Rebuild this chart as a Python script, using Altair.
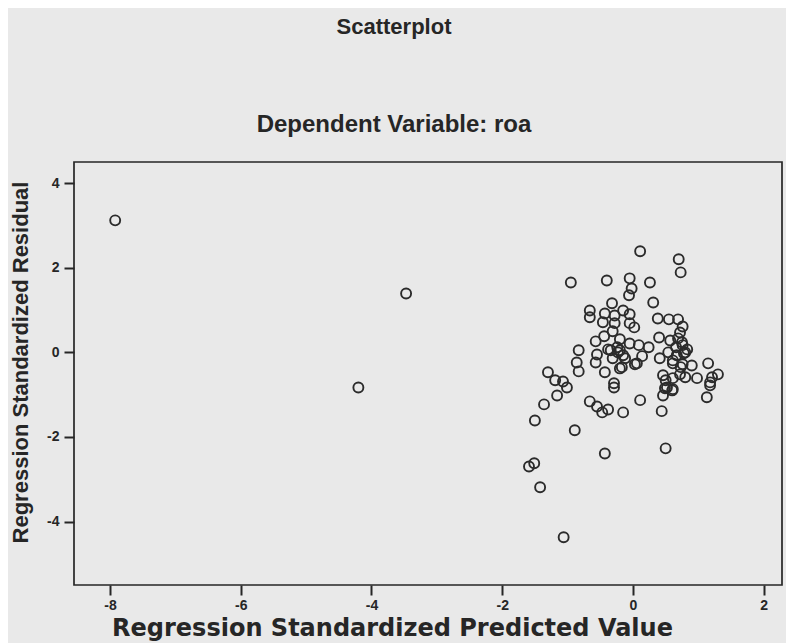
import altair as alt
import pandas as pd

# Regression standardized predicted value (x) and standardized residual (y)
pred = [
    -7.92, -4.20, -3.47,
    0.11, 0.70, 0.73, -0.95, -0.40, -0.05, -0.02, -0.06, 0.26, 0.31, -0.32,
    -0.66, -0.66, -0.43, -0.28, -0.15, -0.05, -0.46, -0.28, -0.05, 0.02,
    0.38, 0.55, 0.69, 0.76, 0.72, 0.69, 0.40, 0.57, 0.76, 0.83,
    -0.31, -0.44, -0.57, -0.20, -0.05, 0.09, 0.24, -0.24, -0.38, -0.55,
    -0.57, -0.83, -0.86, -0.83, -0.31, -0.15, -0.17, 0.03, 0.14, 0.41,
    0.54, 0.67, 0.78, 0.61, 0.76, 0.90, 0.46, 0.72, 0.80, 0.98,
    1.15, 1.21, 1.18, 1.30, 1.13, 0.52, 0.46, 0.60, -0.43, -0.29,
    -0.29, 0.11, -1.30, -1.19, -1.07, -1.01, -1.16, -1.36, -0.66, -0.55,
    -0.38, -0.15, 0.44, -1.50, -0.89, -0.47, 0.50, -0.43, -1.59, -1.51,
    -1.42, -1.06, -0.20, -0.34, -0.12, 0.06, -0.20, 0.66, 0.50, 0.61,
    0.73, 0.49, 0.61, 0.80, 0.61, -0.23, 1.18, 0.75,
]
resid = [
    3.12, -0.83, 1.39,
    2.39, 2.20, 1.89, 1.65, 1.70, 1.75, 1.51, 1.35, 1.65, 1.18, 1.16,
    0.99, 0.83, 0.92, 0.87, 0.99, 0.90, 0.71, 0.69, 0.69, 0.59,
    0.80, 0.78, 0.78, 0.61, 0.47, 0.33, 0.35, 0.28, 0.17, 0.07,
    0.50, 0.38, 0.26, 0.31, 0.21, 0.17, 0.12, 0.12, 0.07, -0.05,
    -0.24, 0.05, -0.24, -0.45, -0.14, -0.07, -0.35, -0.28, -0.09, -0.14,
    0.00, -0.07, -0.02, -0.26, -0.28, -0.31, -0.54, -0.52, -0.59, -0.61,
    -0.26, -0.59, -0.71, -0.52, -1.06, -0.83, -1.02, -0.90, -0.47, -0.73,
    -0.83, -1.13, -0.47, -0.66, -0.69, -0.83, -1.02, -1.23, -1.16, -1.28,
    -1.35, -1.42, -1.39, -1.61, -1.84, -1.42, -2.27, -2.39, -2.70, -2.62,
    -3.19, -4.37, 0.05, 0.05, -0.14, -0.26, -0.38, 0.12, -0.66, -0.61,
    -0.35, -0.85, -0.87, 0.00, -0.19, 0.00, -0.78, 0.24,
]

x_ticks = [-8, -6, -4, -2, 0, 2]
y_ticks = [4, 2, 0, -2, -4]

df = pd.DataFrame({"pred": pred, "resid": resid})

BG = "#e9e9e9"
INK = "#262626"
FONT = "Liberation Sans"
WIDE = "DejaVu Sans"

points = (
    alt.Chart(df)
    .mark_point(shape="circle", filled=False, size=100, strokeWidth=1.9, color="#2b2b2b", opacity=1)
    .encode(
        x=alt.X(
            "pred:Q",
            scale=alt.Scale(domain=[-8.55, 2.28], nice=False, zero=False),
            axis=alt.Axis(
                values=x_ticks,
                labelExpr="datum.value + ''",
                labelPadding=3,
                ticks=True,
                tickSize=10,
                tickWidth=2,
                tickColor=INK,
                zindex=2,
                title="Regression Standardized Predicted Value",
                titleFont=WIDE,
                titleFontSize=24,
                titleX=318,
                titleY=50,
                titleAlign="center",
                titleBaseline="alphabetic",
            ),
        ),
        y=alt.Y(
            "resid:Q",
            scale=alt.Scale(domain=[-5.5, 4.5], nice=False, zero=False),
            axis=alt.Axis(
                values=y_ticks,
                labelExpr="datum.value + ''",
                labelPadding=5,
                ticks=True,
                tickSize=10,
                tickWidth=2,
                tickColor=INK,
                zindex=2,
                title="Regression Standardized Residual",
                titleFont=FONT,
                titleFontSize=22,
                titleX=-54,
                titleY=200,
                titleAngle=270,
                titleAlign="center",
                titleBaseline="middle",
            ),
        ),
    )
)

frame = (
    alt.Chart(pd.DataFrame({"k": [0]}))
    .mark_rect(filled=False, fill=None, stroke=INK, strokeWidth=1.7)
    .encode(x=alt.value(0), x2=alt.value(708), y=alt.value(0), y2=alt.value(423))
)

chart = (
    alt.layer(points, frame)
    .properties(
        width=708,
        height=423,
        autosize=alt.AutoSizeParams(type="none"),
        padding={"left": 66, "top": 154, "right": 4, "bottom": 58},
        background=BG,
        title=alt.TitleParams(
            text="Scatterplot",
            subtitle="Dependent Variable: roa",
            anchor="middle",
            dx=-34,
            offset=23,
            subtitlePadding=74,
            font=FONT,
            fontSize=22,
            fontWeight="bold",
            color=INK,
            subtitleFont=FONT,
            subtitleFontSize=24,
            subtitleFontWeight="bold",
            subtitleColor=INK,
        ),
    )
    .configure_view(stroke=None, fill=BG)
    .configure_axis(
        grid=False,
        domain=False,
        labelFont=FONT,
        labelFontSize=14,
        labelFontWeight="bold",
        labelColor=INK,
        titleFontWeight="bold",
        titleColor=INK,
    )
)

chart.save("out.html", embed_options={"renderer": "svg", "actions": False})
